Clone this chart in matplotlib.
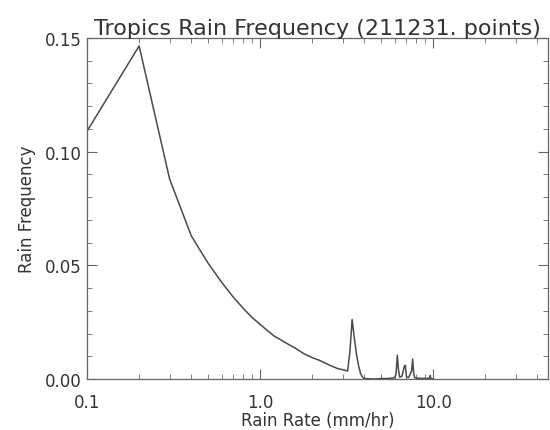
import matplotlib

matplotlib.use("Agg")
import matplotlib.pyplot as plt
from matplotlib.ticker import FixedLocator, FormatStrFormatter, MultipleLocator

INK = "#333333"

# rain-rate bins (mm/hr) and the fraction of points in each
RATE = [0.1, 0.2, 0.3, 0.4, 0.5, 0.6, 0.7, 0.8, 0.9, 1.0,
        1.2, 1.4, 1.6, 1.8, 2.0, 2.2, 2.5, 2.8, 3.0, 3.1,
        3.2, 3.3, 3.4, 3.5, 3.6, 3.7, 3.8, 3.9, 4.0, 4.5,
        5.0, 5.5, 6.0, 6.1, 6.2, 6.3, 6.4, 6.6, 6.8, 6.9,
        7.0, 7.2, 7.5, 7.6, 7.7, 7.8, 8.0, 8.5, 9.0, 9.5,
        9.6, 9.7, 10.0]
FREQ = [0.109, 0.1465, 0.088, 0.063, 0.051, 0.0425, 0.036, 0.031, 0.027, 0.024,
        0.019, 0.016, 0.0135, 0.011, 0.0094, 0.0082, 0.0062, 0.0046, 0.0041, 0.0038,
        0.0035, 0.012, 0.0262, 0.018, 0.011, 0.006, 0.0025, 0.0008, 0.0002, 0.0,
        0.0002, 0.0002, 0.0006, 0.0025, 0.0105, 0.004, 0.0008, 0.0012, 0.0055, 0.006,
        0.001, 0.0006, 0.0035, 0.0088, 0.003, 0.0006, 0.0004, 0.0003, 0.0002, 0.0004,
        0.0015, 0.0002, 0.0]
N_POINTS = 211231

X_MAJOR = [0.1, 1.0, 10.0]
X_MINOR = [m * d for d in (0.1, 1.0, 10.0) for m in range(2, 10)]


def main():
    fig = plt.figure(figsize=(5.5, 4.31), dpi=100)
    ax = fig.add_axes([87 / 550, 51 / 431, 461 / 550, 341 / 431])

    ax.plot(RATE, FREQ, color="#4a4a4a", lw=1.1)

    ax.set_xscale("log")
    ax.set_xlim(0.1, 46)
    ax.set_ylim(0, 0.15)
    ax.xaxis.set_major_locator(FixedLocator(X_MAJOR))
    ax.xaxis.set_minor_locator(FixedLocator(X_MINOR))
    ax.xaxis.set_major_formatter(FormatStrFormatter("%.1f"))
    ax.xaxis.set_minor_formatter(plt.NullFormatter())
    ax.yaxis.set_major_locator(MultipleLocator(0.05))
    ax.yaxis.set_minor_locator(MultipleLocator(0.01))
    ax.yaxis.set_major_formatter(FormatStrFormatter("%.2f"))

    ax.tick_params(which="both", direction="in", top=True, right=True,
                   color="#666666", labelcolor=INK, labelsize=12)
    ax.tick_params(axis="x", pad=10)
    ax.tick_params(axis="y", pad=4)
    ax.tick_params(which="major", length=7, width=0.8)
    ax.tick_params(which="minor", length=3.5, width=0.6)
    for s in ax.spines.values():
        s.set_color("#666666")
        s.set_linewidth(0.9)

    ax.set_xlabel("Rain Rate (mm/hr)", fontsize=12, color=INK, labelpad=0)
    ax.set_ylabel("Rain Frequency", fontsize=12, color=INK, labelpad=6)
    ax.set_title(f"Tropics Rain Frequency ({N_POINTS}. points)",
                 fontsize=16, color=INK, pad=3)

    fig.savefig("out.png", dpi=100, facecolor="white")


if __name__ == "__main__":
    main()
